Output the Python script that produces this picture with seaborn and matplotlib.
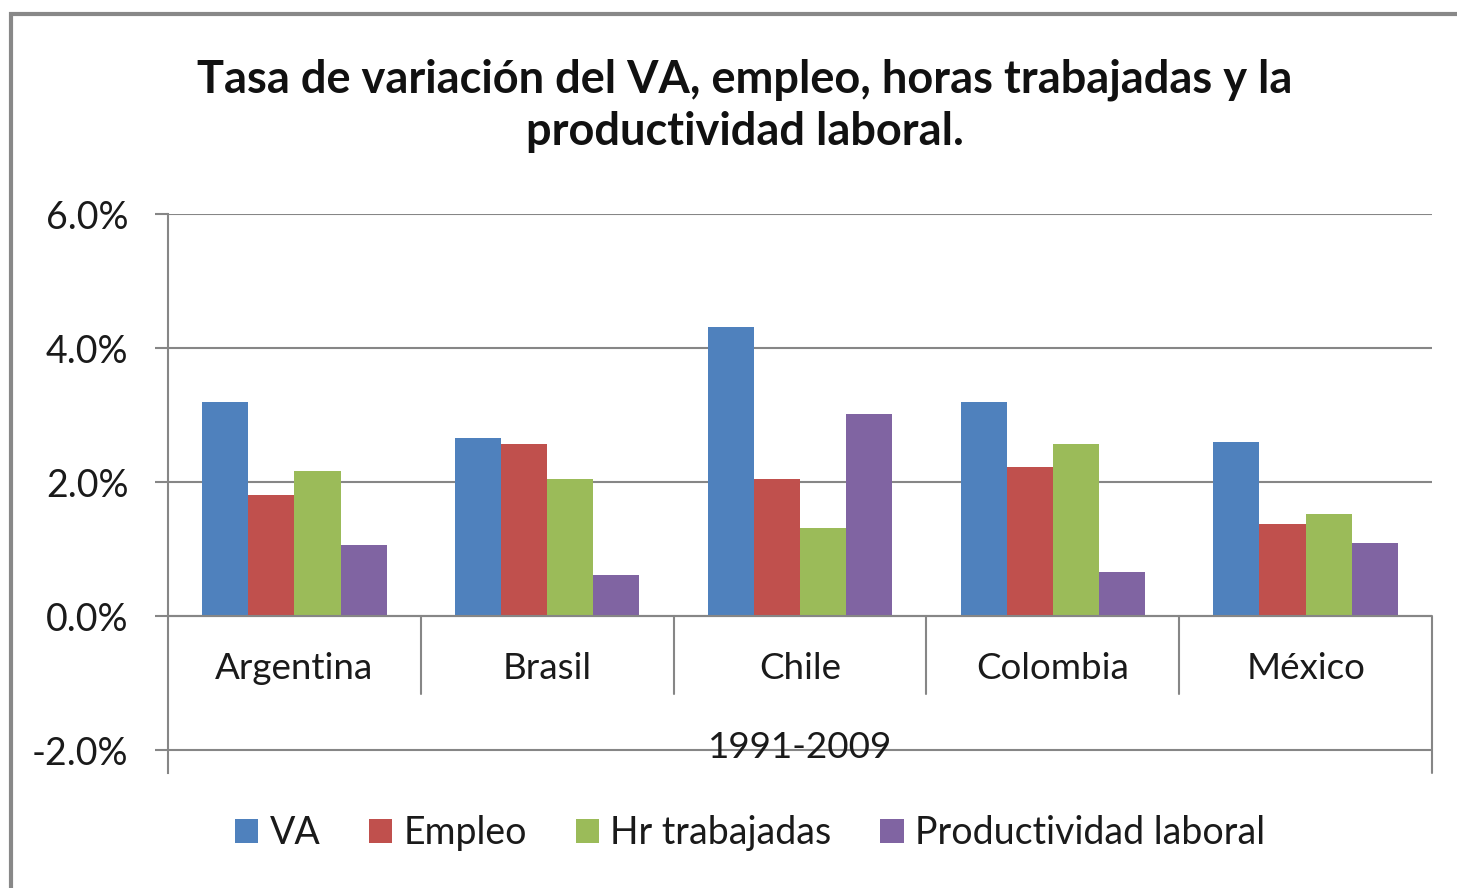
import matplotlib
matplotlib.use("Agg")
import matplotlib.pyplot as plt
from matplotlib.patches import Rectangle
import seaborn as sns
import pandas as pd

categories = ["Argentina", "Brasil", "Chile", "Colombia", "México"]
series_names = ["VA", "Empleo", "Hr trabajadas", "Productividad laboral"]
va = [3.20, 2.66, 4.32, 3.20, 2.60]
empleo = [1.80, 2.57, 2.05, 2.23, 1.37]
hr_trabajadas = [2.17, 2.05, 1.32, 2.57, 1.52]
productividad = [1.06, 0.61, 3.01, 0.65, 1.09]
y_ticks = [-2.0, 0.0, 2.0, 4.0, 6.0]
period_label = "1991-2009"
title = "Tasa de variación del VA, empleo, horas trabajadas y la\nproductividad laboral."
colors = ["#4F81BD", "#C0504D", "#9BBB59", "#8064A2"]

rows = []
for name, vals in zip(series_names, [va, empleo, hr_trabajadas, productividad]):
    for c, v in zip(categories, vals):
        rows.append({"País": c, "Serie": name, "Valor": v})
df = pd.DataFrame(rows)

sns.set_theme(style="white")
plt.rcParams["font.family"] = ["Lato", "DejaVu Sans"]

W, H = 1457, 888
fig = plt.figure(figsize=(W / 100, H / 100), dpi=100)
ax = fig.add_axes([168 / W, 1 - 773 / H, (1432 - 168) / W, (773 - 214) / H])

sns.barplot(data=df, x="País", y="Valor", hue="Serie", order=categories,
            hue_order=series_names, palette=colors, width=0.73, ax=ax,
            saturation=1, linewidth=0, errorbar=None)

ax.set_xlim(-0.5, len(categories) - 0.5)
ymin = -2.0 - 23 / 67.2
ax.set_ylim(ymin, 6.0)
ax.set_yticks(y_ticks)
ax.set_yticklabels([f"{v:.1f}%" for v in y_ticks], fontsize=27, color="#1a1a1a")
ax.yaxis.grid(True, color="#868686", linewidth=1.5)
ax.set_axisbelow(True)
ax.tick_params(axis="y", length=9.5, width=1.5, color="#868686", pad=19, left=True)
ax.tick_params(axis="x", bottom=False, labelbottom=False)
ax.set_xlabel("")
ax.set_ylabel("")
for s in ["top", "right", "bottom"]:
    ax.spines[s].set_visible(False)
ax.spines["left"].set_color("#868686")
ax.spines["left"].set_linewidth(1.5)
ax.axhline(0, color="#868686", linewidth=1.5, zorder=3)

# category separators
sep_bottom = -(695 - 617) / 67.2
for i in range(len(categories) - 1):
    ax.plot([i + 0.5, i + 0.5], [0, sep_bottom], color="#868686", linewidth=1.5, zorder=3)
ax.plot([len(categories) - 0.5] * 2, [0, ymin], color="#868686", linewidth=1.5,
        zorder=3, clip_on=False)

label_y = -(670 - 617) / 67.2
for i, c in enumerate(categories):
    ax.text(i, label_y, c, ha="center", va="center", fontsize=26.5, color="#1a1a1a")

ax.text((len(categories) - 1) / 2, -(749 - 617) / 67.2, period_label,
        ha="center", va="center", fontsize=26.5, color="#1a1a1a")

fig.text(745 / W, 1 - 106 / H, title, ha="center", va="center", fontsize=32.5,
         fontweight="bold", color="#111111", linespacing=1.28)

handles, labels = ax.get_legend_handles_labels()
if ax.get_legend() is not None:
    ax.get_legend().remove()
fig.legend(handles, labels, loc="center", bbox_to_anchor=(750 / W, 1 - 833 / H),
           ncol=4, frameon=False, fontsize=27, handlelength=0.62, handleheight=0.62,
           handletextpad=0.3, columnspacing=1.3, labelcolor="#1a1a1a")

fig.patches.append(Rectangle((11 / W, -0.1), 1.2, 1 - 14 / H + 0.1,
                             transform=fig.transFigure, fill=False,
                             edgecolor="#888888", linewidth=3, figure=fig))

fig.savefig("out.png", dpi=100, facecolor="white")
